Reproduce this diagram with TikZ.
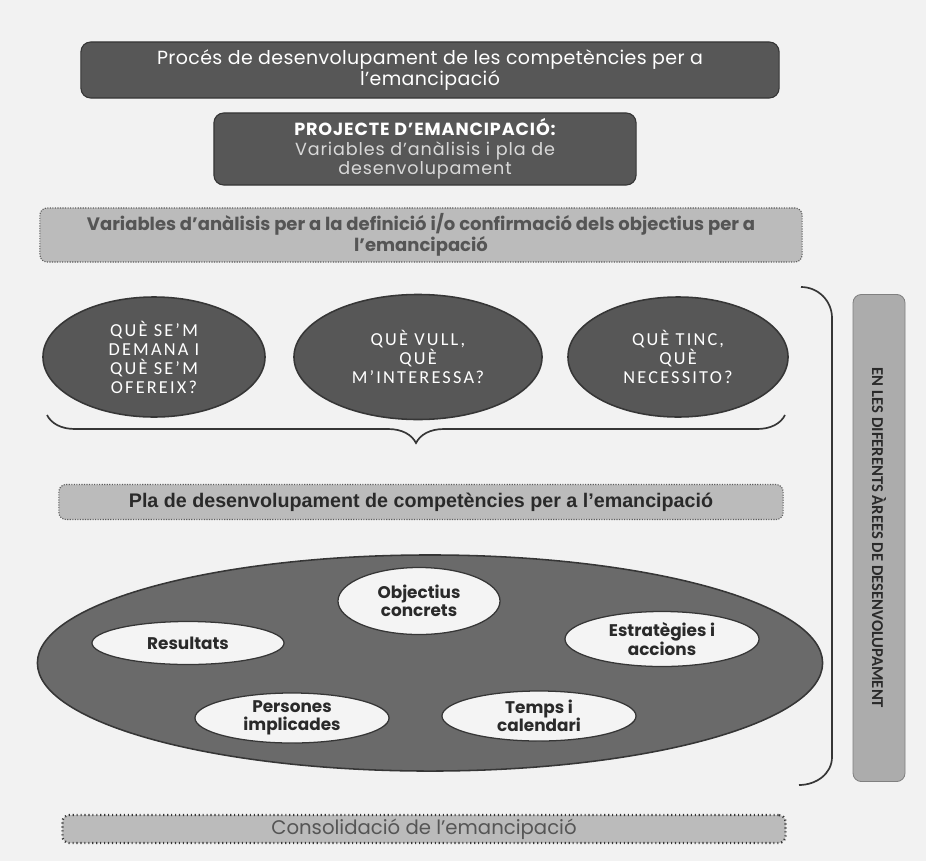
\documentclass[tikz,border=0pt]{standalone}
\usepackage{fontspec}
\setmainfont{Poppins}
\newfontfamily\questfont{Carlito}[LetterSpace=12]
\newfontfamily\narrowfont{Carlito}
\newfontfamily\arialfont{Liberation Sans}
\usetikzlibrary{positioning,shapes.geometric,decorations.pathreplacing}

\definecolor{paper}{HTML}{F2F2F2}
\definecolor{darkfill}{HTML}{575757}
\definecolor{darkline}{HTML}{363636}
\definecolor{lightfill}{HTML}{BBBBBB}
\definecolor{dotline}{HTML}{5E5E5E}
\definecolor{ringfill}{HTML}{6A6A6A}
\definecolor{itemfill}{HTML}{F4F4F4}
\definecolor{greytext}{HTML}{555555}
\definecolor{inktext}{HTML}{2A2A2A}

\begin{document}
\begin{tikzpicture}[
    x=0.025cm, y=-0.025cm,
    dbox/.style={rectangle, rounded corners=7pt, fill=darkfill, draw=darkline, line width=0.8pt, text=white, align=center, inner sep=0pt},
    lbox/.style={rectangle, rounded corners=5pt, fill=lightfill, draw=dotline, densely dotted, line width=0.8pt, align=center, inner sep=0pt},
    quest/.style={ellipse, fill=darkfill, draw=darkline, line width=1.1pt, text=white, align=center, inner sep=0pt,
        font=\questfont\fontsize{13}{13.5}\selectfont},
    item/.style={ellipse, fill=itemfill, draw=darkline, line width=0.9pt, text=inktext, align=center, inner sep=0pt,
        font=\bfseries\fontsize{12}{13}\selectfont},
    curly/.style={draw=darkline, line width=1.2pt},
    ]
    \path[use as bounding box, fill=paper] (0,0) rectangle (926,861);

    % top boxes
    \node[dbox, minimum width=17.45cm, minimum height=1.4cm, font=\addfontfeature{LetterSpace=2}\fontsize{13.5}{15}\selectfont] (title) at (430,70)
        {Procés de desenvolupament de les competències per a\\l’emancipació};
    \node[dbox, minimum width=10.55cm, minimum height=1.8cm, font=\addfontfeature{LetterSpace=5}\fontsize{12.5}{14}\selectfont] (projecte) at (425,149)
        {\bfseries PROJECTE D’EMANCIPACIÓ:\\\color{white!85!black}Variables d’anàlisis i pla de\\\color{white!85!black}desenvolupament};
    \node[lbox, minimum width=19.05cm, minimum height=1.35cm, text=greytext, font=\bfseries\fontsize{12.8}{15}\selectfont] (variables) at (421,235)
        {Variables d’anàlisis per a la definició i/o confirmació dels objectius per a\\l’emancipació};

    % questions
    \node[quest, minimum width=5.55cm, minimum height=3.0cm] (q_1) at (154,357) {QUÈ SE’M\\DEMANA I\\QUÈ SE’M\\OFEREIX?};
    \node[quest, minimum width=6.2cm, minimum height=3.125cm] (q_2) at (418,357) {QUÈ VULL,\\QUÈ\\M’INTERESSA?};
    \node[quest, minimum width=5.5cm, minimum height=3.0cm] (q_3) at (678,357) {QUÈ TINC,\\QUÈ\\NECESSITO?};

    \coordinate (brc_r) at (785,415);
    \coordinate (brc_l) at (47,415);
    \draw[curly, decorate, decoration={brace, amplitude=0.7cm}] (brc_r) -- (brc_l);

    % plan
    \node[lbox, minimum width=18.1cm, minimum height=0.875cm, text=inktext, font=\arialfont\bfseries\fontsize{14}{16}\selectfont] (pla) at (421,502)
        {Pla de desenvolupament de competències per a l’emancipació};

    \node[ellipse, fill=ringfill, draw=darkline, line width=1.1pt, minimum width=19.625cm, minimum height=5.4cm] (plan) at (430,663) {};
    \node[item, minimum width=4.05cm, minimum height=1.675cm] (obj) at (419,601) {Objectius\\concrets};
    \node[item, minimum width=4.8cm, minimum height=1.075cm] (res) at (188,643) {Resultats};
    \node[item, minimum width=4.85cm, minimum height=1.375cm] (est) at (662,639) {Estratègies i\\accions};
    \node[item, minimum width=4.85cm, minimum height=1.25cm] (pers) at (292,718) {Persones\\implicades};
    \node[item, minimum width=4.85cm, minimum height=1.25cm] (temps) at (539,716) {Temps i\\calendari};

    % consolidation
    \node[lbox, minimum width=18.075cm, minimum height=0.7cm, draw=darkline, dotted, line width=1.6pt, text=greytext, font=\fontsize{14}{16}\selectfont] (consol) at (424,829)
        {Consolidació de l’emancipació};

    % side label
    \coordinate (br_a) at (801,287);
    \coordinate (br_b) at (832,318);
    \coordinate (br_c) at (832,757);
    \coordinate (br_d) at (799,785);
    \draw[curly] (br_a) to[out=0, in=90] (br_b) -- (br_c) to[out=-90, in=0] (br_d);

    \node[rectangle, rotate=-90, rounded corners=6pt, fill=lightfill!92!black, draw=gray, line width=0.6pt,
        minimum width=12.175cm, minimum height=1.3cm, inner sep=0pt, text=inktext,
        font=\narrowfont\bfseries\fontsize{11.8}{13}\selectfont] (areas) at (879,538)
        {EN LES DIFERENTS ÀREES DE DESENVOLUPAMENT};
\end{tikzpicture}
\end{document}
